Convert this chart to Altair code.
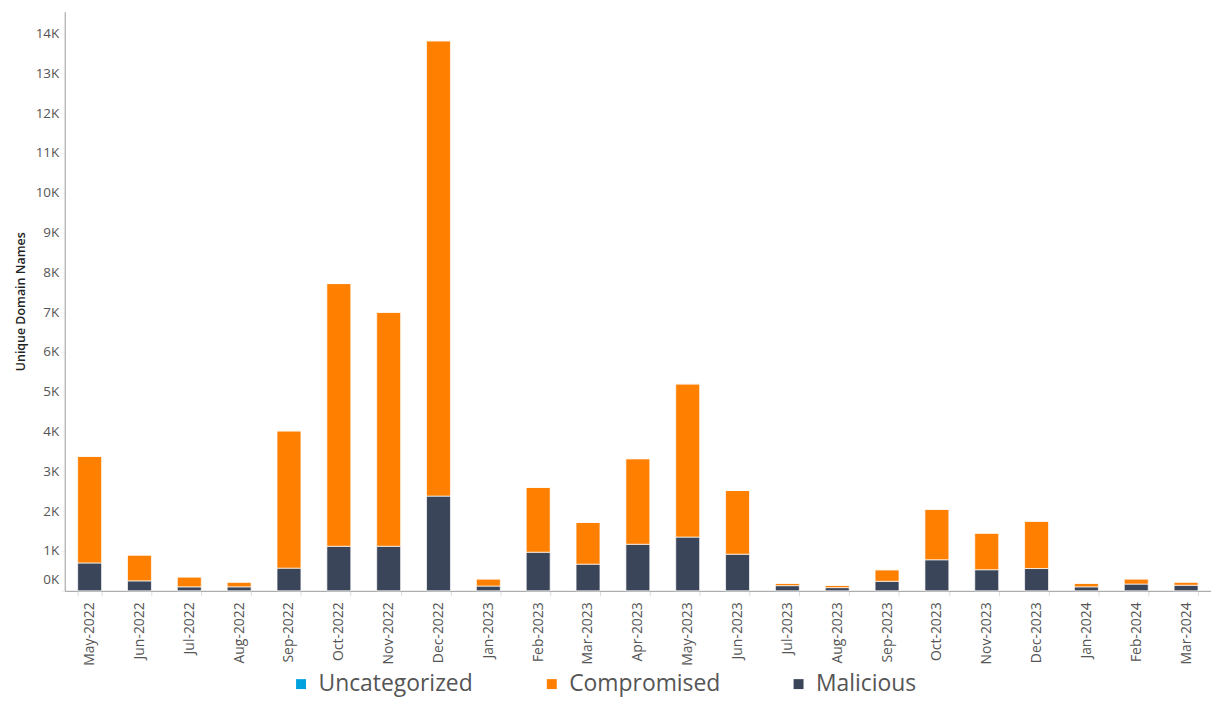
import altair as alt
import pandas as pd

months = ["May-2022", "Jun-2022", "Jul-2022", "Aug-2022", "Sep-2022", "Oct-2022",
          "Nov-2022", "Dec-2022", "Jan-2023", "Feb-2023", "Mar-2023", "Apr-2023",
          "May-2023", "Jun-2023", "Jul-2023", "Aug-2023", "Sep-2023", "Oct-2023",
          "Nov-2023", "Dec-2023", "Jan-2024", "Feb-2024", "Mar-2024"]

malicious = [700, 250, 100, 100, 570, 1120, 1120, 2380, 120, 970, 670, 1170,
             1350, 920, 130, 80, 240, 780, 530, 560, 100, 170, 140]
compromised = [2680, 650, 250, 120, 3450, 6600, 5880, 11440, 180, 1630, 1050, 2150,
               3850, 1600, 60, 60, 290, 1270, 920, 1190, 90, 130, 80]
uncategorized = [0] * len(months)

categories = ["Uncategorized", "Compromised", "Malicious"]
colors = ["#00A2DE", "#FF7F00", "#3B4559"]
stack_order = {"Malicious": 0, "Compromised": 1, "Uncategorized": 2}

rows = []
for i, m in enumerate(months):
    for cat, vals in (("Malicious", malicious), ("Compromised", compromised),
                      ("Uncategorized", uncategorized)):
        rows.append({"Month": m, "Category": cat, "Value": vals[i],
                     "ord": stack_order[cat]})
df = pd.DataFrame(rows)

yticks = list(range(0, 15000, 1000))

chart = alt.Chart(df).mark_bar(stroke="white", strokeWidth=1, strokeOpacity=0.7).encode(
    x=alt.X("Month:N", sort=months, title=None,
            scale=alt.Scale(paddingInner=0.52, paddingOuter=0.26),
            axis=alt.Axis(labelAngle=-90, labelFontSize=14, labelColor="#555555",
                          labelFont="Open Sans", labelPadding=6,
                          tickBand="extent", tickColor="#dddddd", tickSize=5,
                          domainColor="#999999", labelBaseline="middle")),
    y=alt.Y("Value:Q", title="Unique Domain Names",
            scale=alt.Scale(domain=[0, 14550], nice=False),
            axis=alt.Axis(values=yticks, labelExpr="(datum.value/1000) + 'K'",
                          grid=False, labelFontSize=13.5, labelColor="#555555",
                          labelFont="Open Sans", labelFlush=True, labelFlushOffset=-4,
                          tickColor="#eeeeee", tickSize=4, domainColor="#999999",
                          titleFontSize=12.5, titleFont="Open Sans", titleColor="#222222",
                          titleFontWeight=600, titlePadding=8)),
    color=alt.Color("Category:N",
                    scale=alt.Scale(domain=categories, range=colors),
                    legend=alt.Legend(title=None, orient="none", direction="horizontal",
                                      legendX=226, legendY=664,
                                      labelFontSize=23, labelFont="Open Sans",
                                      labelColor="#555555", symbolType="square",
                                      symbolSize=100, symbolStrokeWidth=0,
                                      columnPadding=67, labelOffset=6)),
    order=alt.Order("ord:Q", sort="ascending"),
    tooltip=["Month", "Category", "Value"],
).properties(
    width=1152, height=582,
    autosize=alt.AutoSizeParams(type="none"),
    padding={"left": 57, "top": 2, "right": 0, "bottom": 108},
).configure_view(stroke=None)

chart.save("out.html", embed_options={"renderer": "svg", "actions": False})
